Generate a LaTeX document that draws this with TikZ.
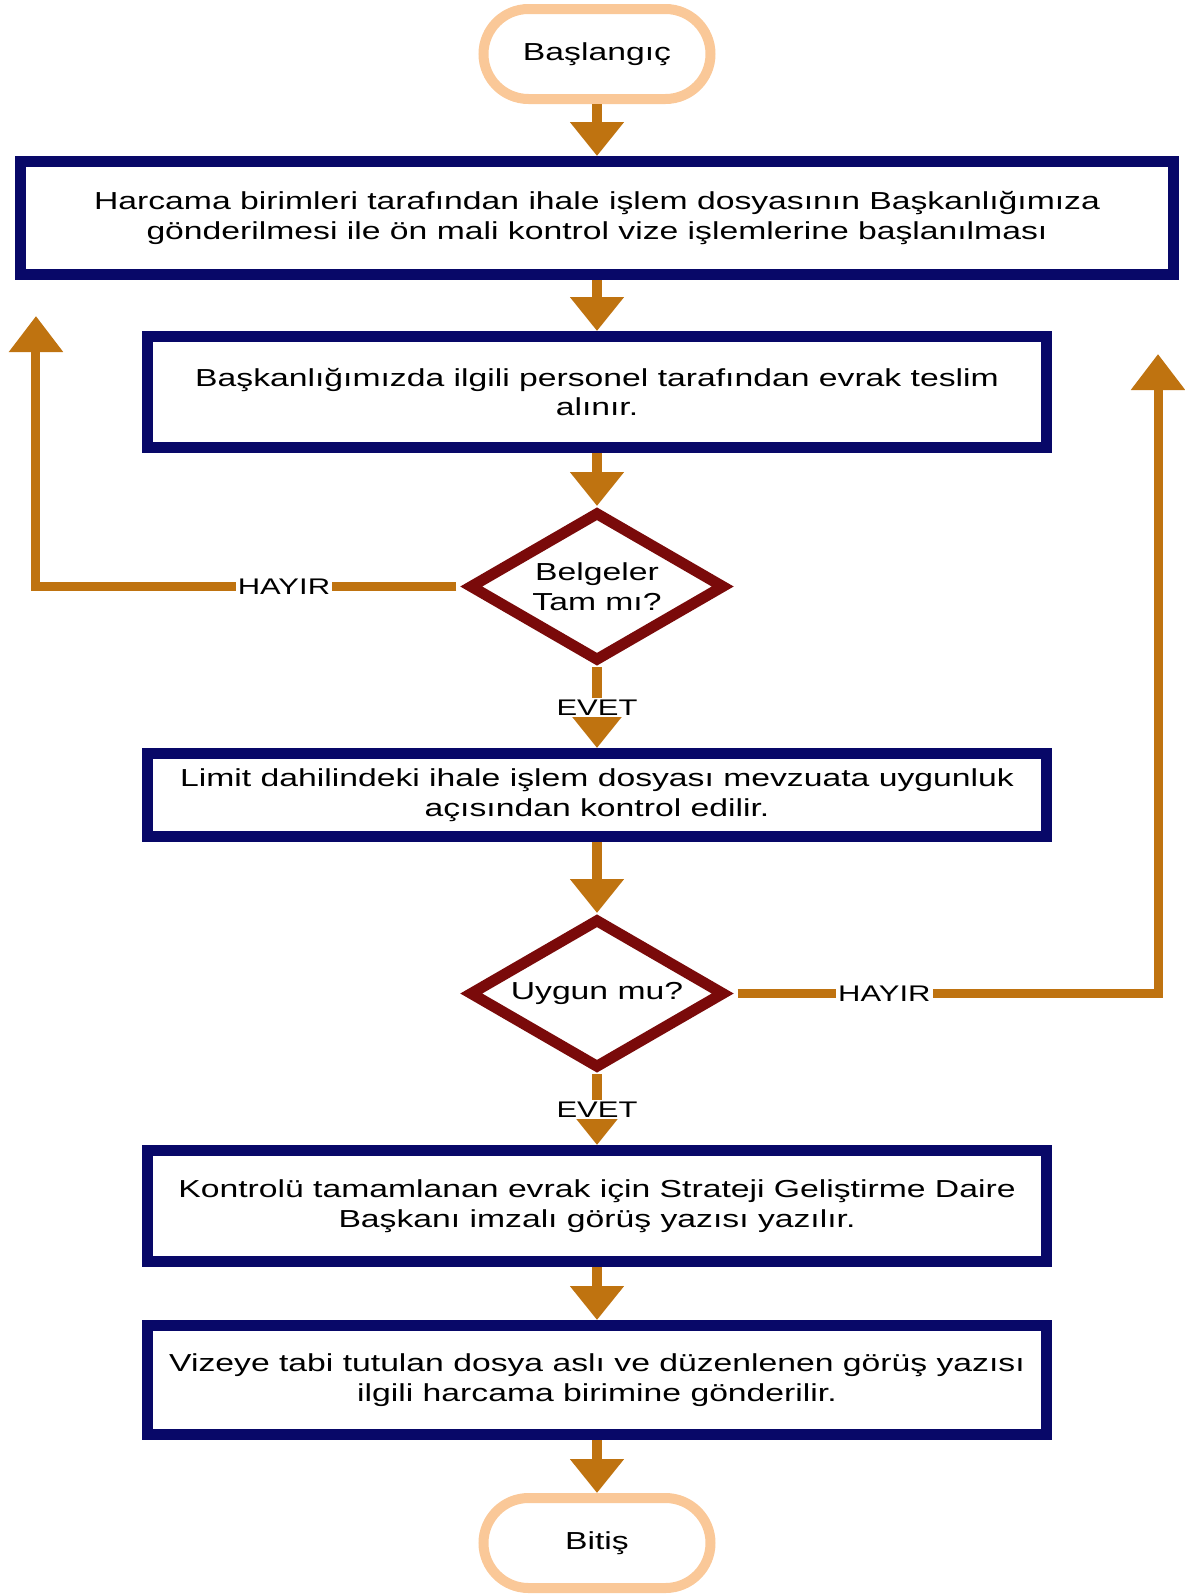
\documentclass[tikz,border=0pt]{standalone}
\usepackage{fontspec}
\setmainfont{Liberation Sans}[FakeStretch=1.37]
\usetikzlibrary{arrows.meta,positioning,calc,shapes.geometric}
\definecolor{lacivert}{RGB}{8,8,104}
\definecolor{bordo}{RGB}{122,10,10}
\definecolor{turuncu}{RGB}{191,115,16}
\definecolor{seftali}{RGB}{250,200,152}
\tikzset{
  block/.style    = {draw=lacivert, line width=5.5pt, rectangle, minimum width=449pt,
                     minimum height=55.5pt, inner sep=0pt, align=center},
  term/.style     = {draw=seftali, line width=5pt, rectangle, rounded corners=22.5pt,
                     minimum width=113.5pt, minimum height=45pt},
  decision/.style = {draw=bordo, line width=5.5pt, diamond, aspect=1.7, inner sep=0pt,
                     minimum width=128pt, minimum height=75pt, align=center},
  sig/.style      = {-{Triangle[width=26pt,length=17pt]}, line width=5pt, draw=turuncu},
  back/.style     = {-{Triangle[width=26pt,length=18pt]}, line width=4.5pt, draw=turuncu,
                     shorten <=3.5pt},
  lbl/.style      = {fill=white, inner sep=1pt, font=\fontsize{11.3}{13}\selectfont},
}

\begin{document}
\begin{tikzpicture}[node distance=26pt, font=\fontsize{12.3}{14.8}\selectfont]
\useasboundingbox (-298.5pt,27pt) rectangle (293.5pt,-771pt);
\node[term] (bas) at (0,0) {Başlangıç};
\node[block, below=26pt of bas, minimum width=576.5pt, minimum height=56.5pt] (harc)
   {Harcama birimleri tarafından ihale işlem dosyasının Başkanlığımıza\\gönderilmesi ile ön mali kontrol vize işlemlerine başlanılması};
\node[block, below=25.5pt of harc] (teslim)
   {Başkanlığımızda ilgili personel tarafından evrak teslim\\alınır.};
\node[decision, below=26.5pt of teslim] (belge) {Belgeler\\Tam mı?};
\node[block, below=40.5pt of belge, minimum height=41.5pt] (limit)
   {Limit dahilindeki ihale işlem dosyası mevzuata uygunluk\\açısından kontrol edilir.};
\node[decision, below=35.5pt of limit] (uygun) {Uygun mu?};
\node[block, below=35.5pt of uygun] (gorus)
   {Kontrolü tamamlanan evrak için Strateji Geliştirme Daire\\Başkanı imzalı görüş yazısı yazılır.};
\node[block, below=26.5pt of gorus, minimum height=54.5pt] (vize)
   {Vizeye tabi tutulan dosya aslı ve düzenlenen görüş yazısı\\ilgili harcama birimine gönderilir.};
\node[term, below=26.5pt of vize] (bitis) {Bitiş};
\coordinate (solok) at (-280.5pt,-131pt);
\coordinate (sagok) at (280.5pt,-150pt);

\draw[sig] (bas) -- (harc);
\draw[sig] (harc) -- (teslim);
\draw[sig] (teslim) -- (belge);
\draw[sig] (belge) -- node[lbl]{EVET} (limit);
\draw[sig] (limit) -- (uygun);
\draw[sig] (uygun) -- node[lbl]{EVET} (gorus);
\draw[sig] (gorus) -- (vize);
\draw[sig] (vize) -- (bitis);
\draw[back] (belge.west) -| node[lbl, pos=0.21]{HAYIR} (solok);
\draw[back] (uygun.east) -| node[lbl, pos=0.18]{HAYIR} (sagok);
\end{tikzpicture}
\end{document}
